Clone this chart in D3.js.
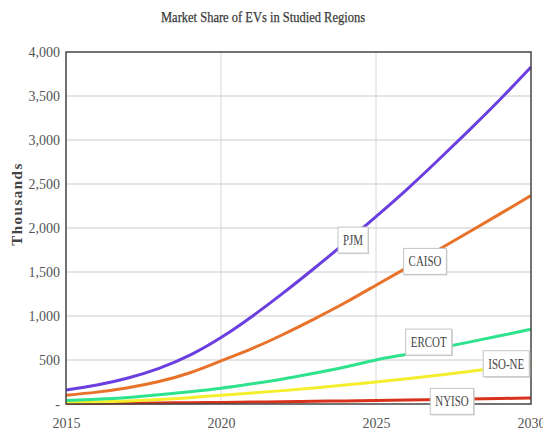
<!DOCTYPE html>
<html>
<head>
<meta charset="utf-8">
<script src="https://cdn.jsdelivr.net/npm/d3@7"></script>
<style>
  body { margin: 0; background: #fff; }
  svg { display: block; }
</style>
</head>
<body>
<div id="graph"></div>
<script>
// values in thousands
const years  = [2015, 2016, 2017, 2018, 2019, 2020, 2021, 2022, 2023, 2024, 2025, 2026, 2027, 2028, 2029, 2030];
const pjm    = [160, 215, 295, 405, 555, 755, 995, 1260, 1540, 1830, 2130, 2440, 2770, 3110, 3460, 3830];
const caiso  = [100, 135, 185, 255, 355, 490, 630, 790, 965, 1150, 1350, 1550, 1750, 1955, 2160, 2370];
const ercot  = [40, 55, 75, 105, 140, 180, 230, 285, 350, 420, 500, 565, 633, 703, 775, 850];
const isone  = [15, 24, 35, 50, 72, 100, 125, 152, 182, 215, 250, 288, 328, 370, 415, 460];
const nyiso  = [5, 7, 9, 12, 15, 18, 22, 26, 30, 35, 40, 45, 50, 56, 62, 68];
const yTicks = [0, 500, 1000, 1500, 2000, 2500, 3000, 3500, 4000];
const xTicks = [2015, 2020, 2025, 2030];

const series = [
    { name: "NYISO",  values: nyiso, color: "#d8321c", at: 2027.45, dy: 2 },
    { name: "ISO-NE", values: isone, color: "#f4ee2c", at: 2029.2, dy: -3 },
    { name: "ERCOT",  values: ercot, color: "#2fe38e", at: 2026.7, dy: -8 },
    { name: "CAISO",  values: caiso, color: "#e8722a", at: 2026.58, dy: 4 },
    { name: "PJM",    values: pjm,   color: "#6b3ee0", at: 2024.26, dy: 4 }
];

let width = 543;
let height = 434;
let pLeft = 66, pRight = 531, pTop = 52, pBottom = 404;

let svg = d3.select("#graph")
    .append("svg")
    .attr("width", width)
    .attr("height", height);

let x = d3.scaleLinear().domain([2015, 2030]).range([pLeft, pRight]);
let y = d3.scaleLinear().domain([0, 4000]).range([pBottom, pTop]);

// title
svg.append("text")
    .attr("x", 263)
    .attr("y", 22)
    .attr("text-anchor", "middle")
    .attr("font-family", "Liberation Serif")
    .attr("font-size", "14px")
    .attr("fill", "#3a3a3a")
    .attr("stroke", "#3a3a3a")
    .attr("stroke-width", 0.25)
    .attr("textLength", 204)
    .attr("lengthAdjust", "spacingAndGlyphs")
    .text("Market Share of EVs in Studied Regions");

// y axis title
svg.append("text")
    .attr("transform", "translate(22," + 204 + ") rotate(-90)")
    .attr("text-anchor", "middle")
    .attr("font-family", "Liberation Serif")
    .attr("font-weight", "bold")
    .attr("font-size", "15px")
    .attr("letter-spacing", "1.5px")
    .attr("fill", "#444")
    .text("Thousands");

// grid
svg.append("g")
    .selectAll("line")
    .data(yTicks.slice(1, -1))
    .enter().append("line")
    .attr("x1", pLeft).attr("x2", pRight)
    .attr("y1", d => y(d)).attr("y2", d => y(d))
    .attr("stroke", "#dcdcdc")
    .attr("stroke-width", 1.5);

svg.append("g")
    .selectAll("line")
    .data(xTicks.slice(1, -1))
    .enter().append("line")
    .attr("x1", d => x(d)).attr("x2", d => x(d))
    .attr("y1", pTop).attr("y2", pBottom)
    .attr("stroke", "#d6d6d6")
    .attr("stroke-width", 1);

// axes labels
let yAxis = svg.append("g")
    .attr("transform", "translate(" + pLeft + ",0)")
    .call(d3.axisLeft(y).tickValues(yTicks).tickSize(0).tickPadding(6)
        .tickFormat(d => d === 0 ? "-" : d3.format(",")(d)));
yAxis.select(".domain").remove();
yAxis.selectAll("text")
    .attr("font-family", "Liberation Sans Narrow")
    .attr("font-size", "14px")
    .attr("fill", "#555");

let xAxis = svg.append("g")
    .attr("transform", "translate(0," + pBottom + ")")
    .call(d3.axisBottom(x).tickValues(xTicks).tickSize(0).tickPadding(14)
        .tickFormat(d3.format("d")));
xAxis.select(".domain").remove();
xAxis.selectAll("text")
    .attr("font-family", "Liberation Sans Narrow")
    .attr("font-size", "14px")
    .attr("fill", "#555");

// lines
let line = d3.line()
    .x((d, i) => x(years[i]))
    .y(d => y(d))
    .curve(d3.curveNatural);

svg.append("g")
    .selectAll("path")
    .data(series)
    .enter().append("path")
    .attr("d", s => line(s.values))
    .attr("fill", "none")
    .attr("stroke", s => s.color)
    .attr("stroke-width", 3);

// plot frame
svg.append("rect")
    .attr("x", pLeft).attr("y", pTop)
    .attr("width", pRight - pLeft).attr("height", pBottom - pTop)
    .attr("fill", "none")
    .attr("stroke", "#444")
    .attr("stroke-width", 1.5);

// labels
function valueAt(values, yr) {
    let i = Math.min(Math.floor(yr - 2015), years.length - 2);
    let t = yr - years[i];
    return values[i] + (values[i + 1] - values[i]) * t;
}

let labels = svg.append("g")
    .selectAll("g")
    .data(series)
    .enter().append("g")
    .attr("transform", s => "translate(" + x(s.at) + "," + (y(valueAt(s.values, s.at)) + s.dy) + ")");

labels.append("text")
    .attr("text-anchor", "middle")
    .attr("dy", "0.35em")
    .attr("font-family", "Liberation Serif")
    .attr("font-size", "14px")
    .attr("fill", "#444")
    .attr("transform", "scale(0.78,1)")
    .text(s => s.name);

labels.each(function () {
    let g = d3.select(this);
    let bb = g.select("text").node().getBBox();
    let w = bb.width * 0.78 + 10;
    g.insert("rect", "text")
        .attr("x", -w / 2 + 1).attr("y", -13 + 1)
        .attr("width", w).attr("height", 26)
        .attr("fill", "#ccc");
    g.insert("rect", "text")
        .attr("x", -w / 2).attr("y", -13)
        .attr("width", w).attr("height", 26)
        .attr("fill", "#fff")
        .attr("stroke", "#c4c4c4")
        .attr("stroke-width", 1);
});
</script>
</body>
</html>
